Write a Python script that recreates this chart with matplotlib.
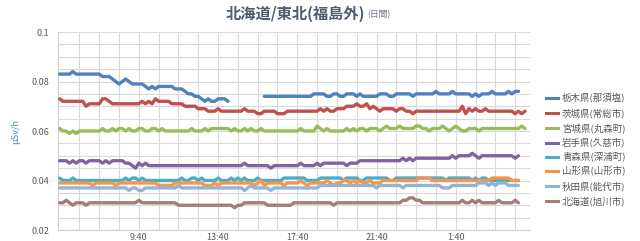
import numpy as np
import matplotlib
matplotlib.use("Agg")
import matplotlib.pyplot as plt
from matplotlib.lines import Line2D

plt.rcParams['font.family'] = ['Noto Sans CJK JP', 'DejaVu Sans']

N = None
# values in units of 0.001 uSv/h, 10-minute readings from 5:40
tochigi = [83,83,83,83,84,83,83,83,83,83,83,83,
           83,82,82,82,81,80,79,80,81,80,79,79,
           79,79,78,77,78,77,78,78,78,78,78,77,
           77,77,76,75,75,74,74,73,72,73,72,72,
           73,73,73,72,N,N,N,N,N,N,N,N,
           N,N,74,74,74,74,74,74,74,74,74,74,
           74,74,74,74,74,75,75,75,75,74,74,75,
           75,74,74,75,75,75,74,75,74,74,74,74,
           74,75,75,75,74,74,75,75,75,75,75,74,
           75,75,75,75,75,75,76,75,75,75,75,76,
           75,75,75,75,75,74,75,74,75,75,75,76,
           75,75,75,75,76,75,76,76,N,N,N]
ibaraki = [73,72,72,72,72,72,72,72,70,71,71,71,
           71,73,73,72,71,71,71,71,71,71,71,71,
           71,72,71,72,71,73,72,72,72,72,71,71,
           71,71,70,70,70,70,69,69,69,68,68,68,
           69,68,68,68,68,68,68,68,69,68,68,68,
           67,67,68,68,68,68,67,67,67,68,68,68,
           68,68,68,68,68,68,68,69,68,69,68,68,
           69,69,69,70,70,70,71,70,70,71,69,70,
           69,68,69,69,69,69,68,69,69,68,68,67,
           68,68,68,68,68,68,68,68,68,68,68,68,
           68,68,70,67,69,68,69,68,68,69,68,68,
           68,68,68,68,68,68,67,68,67,68,N]
miyagi = [61,60,60,59,60,59,60,60,60,60,60,60,
          60,61,60,60,61,60,61,61,60,61,60,60,
          61,61,60,60,61,61,60,61,60,60,60,60,
          60,60,60,60,61,60,60,60,61,60,61,61,
          61,61,61,61,60,61,60,60,61,60,61,60,
          60,61,60,60,60,60,60,60,60,60,60,60,
          60,61,60,60,60,60,62,61,60,61,60,60,
          60,60,60,61,60,61,60,61,61,60,61,61,
          61,60,61,62,61,61,61,62,61,61,61,61,
          62,62,61,61,60,61,61,61,62,61,60,61,
          62,61,60,60,61,61,61,60,61,61,61,61,
          61,61,61,61,61,61,61,61,62,61,N]
iwate = [48,48,48,47,48,47,48,48,47,48,48,48,
         48,47,48,47,48,48,48,48,47,47,46,45,
         47,46,47,46,46,46,46,46,46,46,46,46,
         46,46,46,46,46,46,46,46,46,46,46,46,
         46,46,46,46,46,46,46,46,47,46,46,46,
         46,46,46,46,45,46,46,46,46,46,46,46,
         46,47,46,46,46,46,47,46,47,47,47,47,
         47,47,47,46,47,47,47,48,48,48,48,48,
         48,48,48,48,48,48,48,48,49,48,49,48,
         49,49,49,49,49,49,49,49,49,49,49,50,
         49,50,50,50,50,51,50,49,50,50,50,50,
         50,50,50,50,50,50,49,50,N,N,N]
aomori = [41,40,40,40,41,40,40,40,40,40,40,40,
          40,40,40,40,40,40,40,40,41,40,41,41,
          40,41,40,40,40,40,40,40,40,40,40,40,
          40,41,40,40,41,41,40,41,40,40,40,40,
          41,40,40,40,41,40,41,40,41,40,40,40,
          41,40,40,40,40,40,40,40,41,41,41,41,
          41,41,41,40,40,40,40,41,41,41,41,41,
          41,41,40,41,41,41,41,40,40,41,41,41,
          41,41,41,41,40,40,41,41,41,41,41,41,
          41,41,41,41,41,41,41,41,41,40,41,41,
          41,41,41,41,41,40,41,40,41,41,40,40,
          40,40,40,40,40,40,40,40,N,N,N]
yamagata = [39,39,39,39,39,39,39,39,39,39,38,39,
            39,39,39,39,39,38,39,39,39,39,39,39,
            39,39,39,39,39,39,38,38,38,38,38,39,
            39,39,39,39,39,39,39,39,38,38,38,39,
            38,39,39,39,39,39,39,39,39,39,39,38,
            39,40,38,39,39,39,39,39,38,39,39,39,
            39,40,39,38,39,39,39,39,39,40,39,38,
            39,39,40,40,39,40,39,40,39,39,40,39,
            39,39,40,40,40,40,40,40,40,40,40,40,
            40,41,41,41,41,40,40,40,40,40,40,40,
            40,40,40,40,40,40,40,40,40,40,40,41,
            41,41,41,41,41,40,40,40,N,N,N]
akita = [37,37,37,37,37,37,37,37,37,37,37,37,
         37,37,37,37,37,37,37,37,37,36,37,37,
         36,36,37,37,37,37,37,37,37,37,37,37,
         38,37,37,37,37,37,37,37,37,37,37,37,
         37,37,37,37,37,37,37,37,36,37,38,37,
         37,37,37,37,36,37,37,37,37,37,37,37,
         37,37,37,37,37,37,37,38,38,38,38,38,
         38,38,38,38,38,38,38,38,38,38,38,38,
         37,38,38,38,38,38,38,38,37,38,38,38,
         38,38,38,38,38,38,38,38,37,37,37,38,
         38,38,38,38,38,38,38,39,39,39,38,39,
         38,39,39,39,38,38,38,38,N,N,N]
hokkaido = [31,31,32,31,30,31,31,31,30,31,31,31,
            31,31,31,31,31,31,31,31,31,31,31,31,
            32,31,31,31,31,31,31,31,31,31,31,31,
            30,30,30,30,30,30,30,30,30,30,30,30,
            30,30,30,30,30,29,30,30,31,31,31,31,
            31,31,31,30,30,30,30,30,30,30,30,31,
            31,31,31,31,31,31,31,31,31,31,31,30,
            31,31,31,31,31,31,31,31,31,31,31,31,
            31,31,31,31,31,31,31,31,32,32,33,33,
            32,32,31,31,31,31,31,31,31,31,31,31,
            31,31,32,31,31,32,31,32,31,31,31,31,
            31,32,31,31,31,31,32,31,N,N,N]

series = [tochigi, ibaraki, miyagi, iwate, aomori, yamagata, akita, hokkaido]
names = ['栃木県(那須塩)', '茨城県(常総市)', '宮城県(丸森町)', '岩手県(久慈市)',
         '青森県(深浦町)', '山形県(山形市)', '秋田県(能代市)', '北海道(旭川市)']
colors = ['#4F81BD', '#C0504D', '#9BBB59', '#8064A2', '#4BACC6', '#F79646',
          '#95B3D7', '#A57C7A']

n = len(tochigi)
for s in series:
    assert len(s) == n, len(s)

start_min = 5 * 60 + 40
times = ['%d:%02d' % (((start_min + 10 * i) // 60) % 24, (start_min + 10 * i) % 60)
         for i in range(n)]
tick_labels = ['9:40', '13:40', '17:40', '21:40', '1:40']
y_ticks = [0.02, 0.04, 0.06, 0.08, 0.1]
y_tick_labels = ['0.02', '0.04', '0.06', '0.08', '0.1']

W, H = 640, 241
fig = plt.figure(figsize=(W / 100, H / 100), dpi=100)
ax = fig.add_axes([58 / W, 1 - 230 / H, (530 - 58) / W, (230 - 32) / H])

x = np.arange(n)
for s, c, nm in zip(series, colors, names):
    y = np.array(s, dtype=float) / 1000.0
    ax.plot(x, y, color=c, lw=2.4, solid_joinstyle='round', solid_capstyle='round',
            label=nm, zorder=3)

ax.set_xlim(-0.5, n - 0.5)
ax.set_ylim(0.02, 0.1)

major_x = [i for i, t in enumerate(times) if t in tick_labels]
hour_x = [i for i, t in enumerate(times) if t.endswith(':40') and i > 0]
ax.set_xticks(major_x)
ax.set_xticklabels([times[i] for i in major_x])
ax.set_xticks(hour_x, minor=True)
ax.set_yticks(y_ticks)
ax.set_yticklabels(y_tick_labels)
ax.set_yticks(np.arange(0.02, 0.1001, 0.005), minor=True)

ax.grid(which='both', color='#d9d9d9', lw=0.8, zorder=0)
ax.set_axisbelow(True)
ax.tick_params(which='both', length=0)
ax.tick_params(axis='y', pad=6.5, labelsize=6.5, labelcolor='#595959')
ax.tick_params(axis='x', pad=2.5, labelsize=6.5, labelcolor='#595959')
for sp in ['top', 'right']:
    ax.spines[sp].set_visible(False)
for sp in ['left', 'bottom']:
    ax.spines[sp].set_color('#d0d0d0')
    ax.spines[sp].set_linewidth(0.8)

# y label
fig.text(16 / W, 1 - 131 / H, 'μSv/h', rotation=90, ha='center', va='center',
         fontsize=6.5, color='#4F81BD')

# title
t = fig.text(226 / W, 1 - 14 / H, '北海道/東北(福島外)', ha='left', va='center',
             fontsize=11, fontweight='bold', color='#4E5B6E')
ax.annotate('(日間)', xy=(1, 0.5), xycoords=t, xytext=(1.5, -0.5),
            textcoords='offset points', ha='left', va='center',
            fontsize=6.3, color='#6A7687', annotation_clip=False)

# legend (manual)
leg_y = [98, 113, 128, 143, 157, 171, 186, 201]
for yy, c, nm in zip(leg_y, colors, names):
    fy = 1 - yy / H
    fig.add_artist(Line2D([546 / W, 558 / W], [fy, fy], color=c, lw=2.2,
                          transform=fig.transFigure))
    fig.text(562 / W, fy, nm, ha='left', va='center', fontsize=6.8, color='#595959')

fig.savefig('out.png', dpi=100, facecolor='white')
